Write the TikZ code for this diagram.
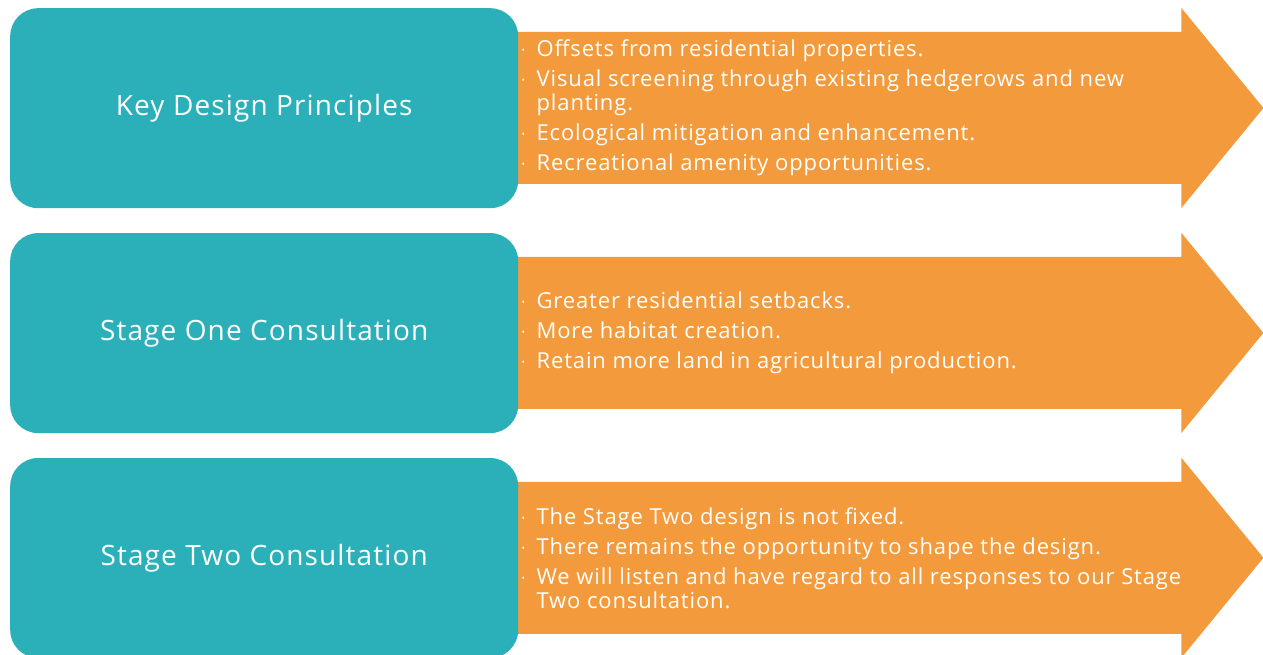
\documentclass[tikz,border=0pt]{standalone}
\usepackage{fontspec}
\setmainfont{Open Sans}[LetterSpace=4]
\usetikzlibrary{positioning,backgrounds}
\definecolor{stageteal}{HTML}{2BAFB9}
\definecolor{stageorange}{HTML}{F29A3C}
\tikzset{
  stagebox/.style={
    rectangle,
    rounded corners=28pt,
    fill=stageteal,
    text=white,
    align=center,
    minimum width=508pt,
    minimum height=200pt,
    inner sep=0pt,
    font=\fontsize{28}{32}\selectfont
  },
  pointlist/.style={
    text=white,
    align=left,
    inner sep=0pt,
    font=\fontsize{22}{24}\selectfont
  },
  stagearrow/.style={fill=stageorange}
}
% bullet with hanging text
\newcommand{\bpoint}[1]{\makebox[15pt][l]{\fontsize{9}{9}\selectfont\raisebox{3pt}{\textbullet}}#1}
\newcommand{\bcont}[1]{\hspace*{15pt}#1}
% orange arrow behind a stage box
\newcommand{\arrowfrom}[1]{%
  \fill[stagearrow] (#1.north east) ++(-12,-24) -- ++(675,0) -- ++(0,24)
    -- ++(82,-100) -- ++(-82,-100) -- ++(0,24) -- ++(-675,0) -- cycle;}

\begin{document}
\begin{tikzpicture}[x=1pt,y=1pt]
  \useasboundingbox (0,0) rectangle (1263,654);
  \node[stagebox, anchor=north west] (kdp) at (10,646) {Key Design Principles};
  \node[stagebox, below=24.5pt of kdp] (soc) {Stage One Consultation};
  \node[stagebox, below=24.5pt of soc] (stc) {Stage Two Consultation};
  \begin{scope}[on background layer]
    \arrowfrom{kdp}
    \arrowfrom{soc}
    \arrowfrom{stc}
  \end{scope}
  \node[pointlist, right=3pt of kdp] (kdplist) {%
    \bpoint{Offsets from residential properties.}\\[6pt]
    \bpoint{Visual screening through existing hedgerows and new}\\
    \bcont{planting.}\\[6pt]
    \bpoint{Ecological mitigation and enhancement.}\\[6pt]
    \bpoint{Recreational amenity opportunities.}};
  \node[pointlist, right=3pt of soc] (soclist) {%
    \bpoint{Greater residential setbacks.}\\[6pt]
    \bpoint{More habitat creation.}\\[6pt]
    \bpoint{Retain more land in agricultural production.}};
  \node[pointlist, right=3pt of stc] (stclist) {%
    \bpoint{The Stage Two design is not fixed.}\\[6pt]
    \bpoint{There remains the opportunity to shape the design.}\\[6pt]
    \bpoint{We will listen and have regard to all responses to our Stage}\\
    \bcont{Two consultation.}};
\end{tikzpicture}
\end{document}
